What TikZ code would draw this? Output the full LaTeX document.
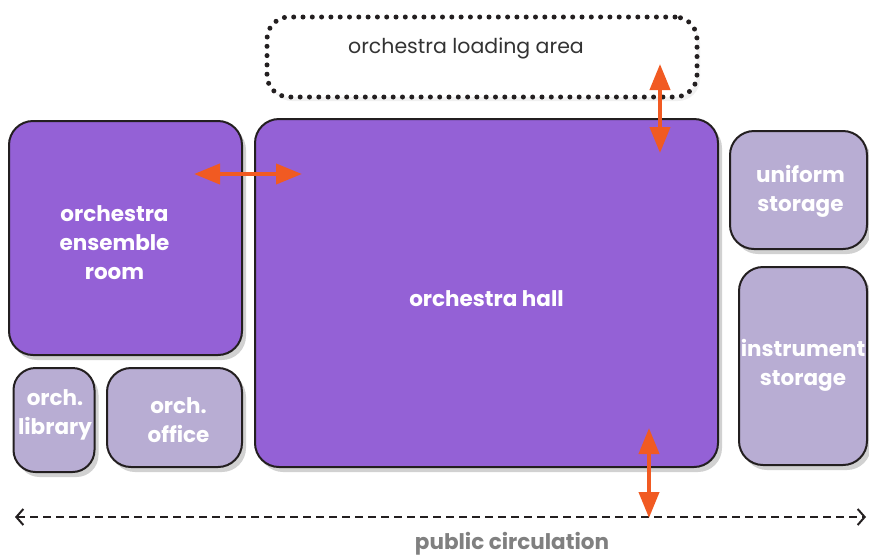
\documentclass[tikz,border=0pt]{standalone}
\usepackage{fontspec}
\setmainfont{Poppins}
\usepackage{xcolor}
\usepackage{tikz}
\usetikzlibrary{arrows.meta, shadows}
\definecolor{hallpurple}{HTML}{9461D6}
\definecolor{storelilac}{HTML}{B8ADD3}
\definecolor{linkorange}{HTML}{F15A22}
\definecolor{edgedark}{HTML}{231F20}
\tikzset{every node/.append style={font=\fontsize{21}{29}\selectfont}}
\tikzset{
  room/.style={draw=edgedark, line width=2pt, rounded corners=24pt, fill=hallpurple,
    text=white, font=\fontsize{21.5}{29}\selectfont\bfseries, align=center, inner sep=0pt,
    drop shadow={shadow xshift=4pt, shadow yshift=-5pt, fill=black, opacity=0.18}},
  store/.style={room, fill=storelilac},
  roomtext/.style={text=white, font=\fontsize{21.5}{29}\selectfont\bfseries, align=center},
  link/.style={linkorange, line width=4pt, {Triangle[length=26pt,width=20pt]}-{Triangle[length=26pt,width=20pt]}},
}

\begin{document}
\begin{tikzpicture}[x=1pt, y=-1pt]
    \useasboundingbox (0,0) rectangle (869,558);
    \node[draw=edgedark, line width=5pt, dash pattern=on 0pt off 9.3pt, line cap=round,
      rounded corners=22pt, fill=white, minimum width=430pt, minimum height=80pt,
      drop shadow={shadow xshift=3pt, shadow yshift=-4pt, fill=black, opacity=0.06},
      label={[text=black!80, font=\fontsize{20.5}{24}\selectfont, shift={(-16,-9)}]center:orchestra loading area}]
      (loading) at (482,57) {};
    \node[room, minimum width=233pt, minimum height=234pt,
      label={[roomtext, shift={(-11,5)}]center:{orchestra\\ ensemble\\ room}}] (ensemble) at (125.5,238) {};
    \node[room, minimum width=463pt, minimum height=348pt,
      label={[roomtext, shift={(0,6)}]center:orchestra hall}] (hall) at (486.5,293) {};
    \node[store, minimum width=137pt, minimum height=118pt,
      label={[roomtext, shift={(2,1)}]center:{uniform\\ storage}}] (uniform) at (798.5,190) {};
    \node[store, minimum width=128pt, minimum height=198pt,
      label={[roomtext, shift={(0,-1)}]center:{instrument\\ storage}}] (instrument) at (803,366) {};
    \node[store, rounded corners=22pt, minimum width=81pt, minimum height=104pt,
      label={[roomtext, shift={(1,-5)}]center:{orch.\\ library}}] (library) at (54,420) {};
    \node[store, minimum width=135pt, minimum height=99pt,
      label={[roomtext, shift={(4,3)}]center:{orch.\\ office}}] (office) at (174.5,417.5) {};
    \coordinate (ensL) at (194,174);
    \coordinate (hallR) at (302,174);
    \coordinate (loadB) at (660,64);
    \coordinate (hallT) at (660,153);
    \coordinate (hallB) at (649,428);
    \coordinate (pubM) at (649,518);
    \coordinate (pubL) at (15,517);
    \coordinate (pubR) at (866,517);
    \draw[edgedark, line width=2pt, dash pattern=on 8pt off 5pt,
      {Straight Barb[length=7pt,width=16pt]}-{Straight Barb[length=7pt,width=16pt]}] (pubL) -- (pubR);
    \node[text=black!50, font=\fontsize{21.5}{24}\selectfont\bfseries] (public) at (512,544) {public circulation};
    \draw[link] (ensL) -- (hallR);
    \draw[link] (loadB) -- (hallT);
    \draw[link] (hallB) -- (pubM);
\end{tikzpicture}
\end{document}
